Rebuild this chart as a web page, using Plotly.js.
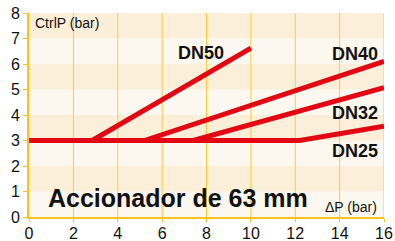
<!DOCTYPE html>
<html><head><meta charset="utf-8">
<script src="https://cdn.plot.ly/plotly-3.0.1.min.js"></script>
<style>html,body{margin:0;padding:0;background:#fff}#c{width:395px;height:241px}</style>
</head><body><div id="c"></div>
<script>
const seriesNames = ["DN50","DN40","DN32","DN25"];
const dn50x = [0, 2.85, 10], dn50y = [3, 3, 6.62];
const dn40x = [0, 5.2, 16], dn40y = [3, 3, 6.1];
const dn32x = [0, 7.4, 16], dn32y = [3, 3, 5.07];
const dn25x = [0, 12.2, 16], dn25y = [3, 3, 3.56];
const xTicks = [0,2,4,6,8,10,12,14,16];
const yTicks = [0,1,2,3,4,5,6,7,8];
const darkBands = [1,3,5,7];

const red = '#E30613';
const xs = [dn50x, dn40x, dn32x, dn25x], ys = [dn50y, dn40y, dn32y, dn25y];
const traces = xs.map((x,i)=>({x:x, y:ys[i], mode:'lines', name:seriesNames[i],
  line:{color:red, width:5}, hoverinfo:'skip'}));

const shapes = [];
yTicks.slice(0,-1).forEach(v=>{
  shapes.push({type:'rect', xref:'paper', yref:'y', x0:0, x1:1, y0:v, y1:v+1,
    fillcolor: darkBands.includes(v) ? '#FCEFDA' : '#FDF8EF', line:{width:0}, layer:'below'});
});
xTicks.slice(1).forEach(v=>{
  shapes.push({type:'line', xref:'x', yref:'paper', x0:v, x1:v, y0:0, y1:1,
    line:{color:'#FFC93C', width:1}, layer:'below'});
});

const font = {family:'Liberation Sans, Arial, sans-serif', color:'#111'};
const annotations = [
  {x:7.77, y:6.44, text:'<b>DN50</b>', showarrow:false, font:{...font, size:18}, xanchor:'center', yanchor:'middle'},
  {x:16, y:6.4, text:'<b>DN40</b>', showarrow:false, font:{...font, size:18}, xanchor:'right', yanchor:'middle', xshift:-4},
  {x:16, y:4.07, text:'<b>DN32</b>', showarrow:false, font:{...font, size:18}, xanchor:'right', yanchor:'middle', xshift:-4},
  {x:16, y:2.57, text:'<b>DN25</b>', showarrow:false, font:{...font, size:18}, xanchor:'right', yanchor:'middle', xshift:-4},
  {x:0.77, y:0.75, text:'<b>Accionador de 63 mm</b>', showarrow:false, font:{...font, size:25}, xanchor:'left', yanchor:'middle'},
  {x:0.2, y:7.6, text:'CtrlP (bar)', showarrow:false, font:{...font, size:14}, xanchor:'left', yanchor:'middle'},
  {x:16, y:0.4, text:'ΔP (bar)', showarrow:false, font:{...font, size:14}, xanchor:'right', yanchor:'middle', xshift:-5}
];

const layout = {
  width:395, height:241,
  margin:{l:29, r:11, t:13, b:24},
  paper_bgcolor:'#fff', plot_bgcolor:'#FDF8EF',
  showlegend:false,
  xaxis:{range:[0,16], tickvals:xTicks, showgrid:false,
    zeroline:false, showline:true, linecolor:'#FFBF1F', linewidth:2,
    ticks:'outside', ticklen:3, tickcolor:'#FFBF1F', tickfont:{...font, size:16},
    ticklabelstandoff:-2, fixedrange:true},
  yaxis:{range:[0,8], tickvals:yTicks, showgrid:false, zeroline:false,
    showline:true, linecolor:'#FFBF1F', linewidth:2,
    ticks:'outside', ticklen:4, tickcolor:'#FFBF1F', tickfont:{...font, size:16}, fixedrange:true},
  shapes:shapes, annotations:annotations
};
Plotly.newPlot('c', traces, layout, {displayModeBar:false, staticPlot:true});
</script></body></html>
